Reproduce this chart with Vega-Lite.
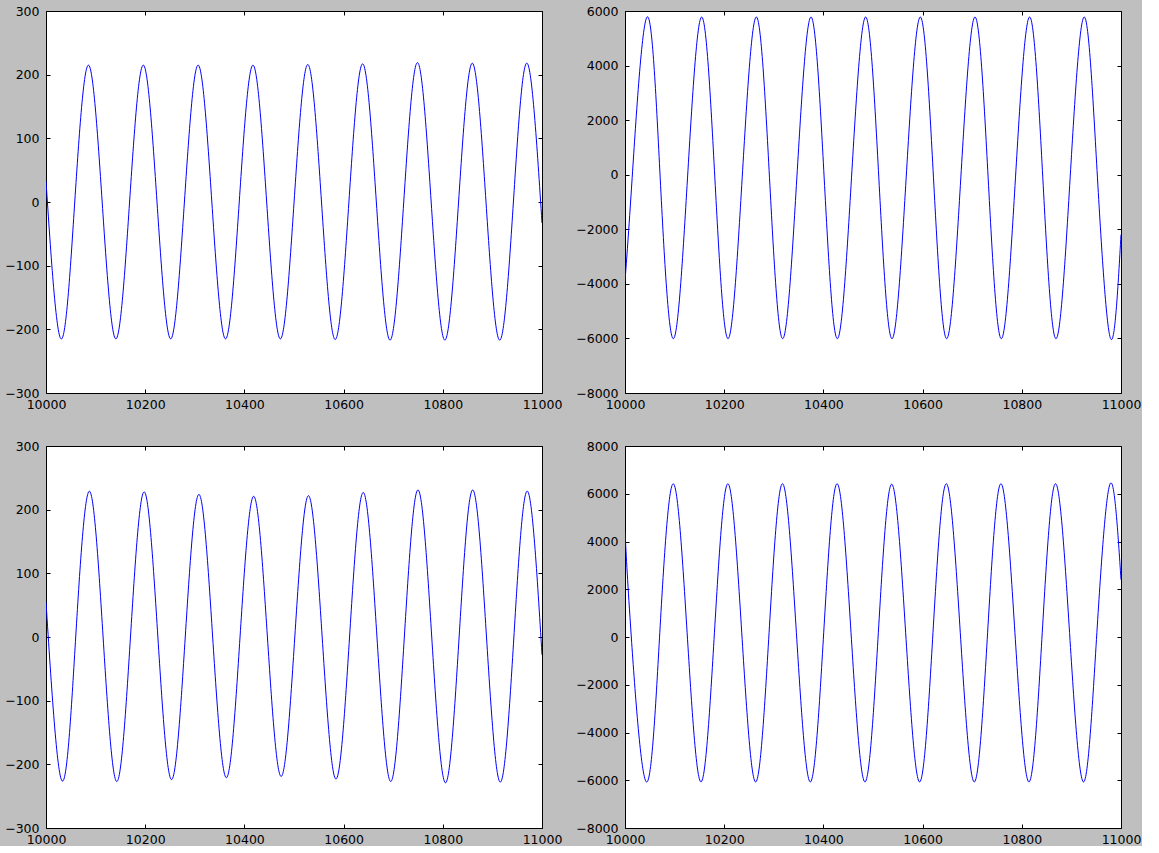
{
  "$schema": "https://vega.github.io/schema/vega-lite/v6.json",
  "background": "#bfbfbf",
  "autosize": {"type": "pad"},
  "padding": {"left": 4, "top": 4, "right": 0, "bottom": 0},
  "config": {
    "view": {"stroke": "#000000", "strokeWidth": 1, "fill": "#ffffff"},
    "axis": {
      "grid": false,
      "domain": false,
      "ticks": true,
      "tickColor": "#000000",
      "tickWidth": 1,
      "tickSize": -4,
      "labelFont": "DejaVu Sans",
      "labelFontSize": 12.5,
      "labelColor": "#000000",
      "labelFlush": false,
      "labelOverlap": false,
      "title": null
    },
    "axisX": {"labelPadding": 9},
    "axisY": {"labelPadding": 11}
  },
  "datasets": {
    "p1": [
      {"x": 10000, "y": 33},
      {"x": 10030.3, "y": -215},
      {"x": 10057.95, "y": 0},
      {"x": 10085.6, "y": 215},
      {"x": 10113.25, "y": 0},
      {"x": 10140.85, "y": -215},
      {"x": 10168.5, "y": 0},
      {"x": 10196.15, "y": 215},
      {"x": 10223.8, "y": 0},
      {"x": 10251.4, "y": -215},
      {"x": 10279.05, "y": 0},
      {"x": 10306.7, "y": 215},
      {"x": 10334.35, "y": 0},
      {"x": 10361.95, "y": -215},
      {"x": 10389.6, "y": 0},
      {"x": 10417.25, "y": 215},
      {"x": 10444.9, "y": 0},
      {"x": 10472.5, "y": -215},
      {"x": 10500.15, "y": 0},
      {"x": 10527.8, "y": 216},
      {"x": 10555.45, "y": 0},
      {"x": 10583.05, "y": -216},
      {"x": 10610.7, "y": 0},
      {"x": 10638.35, "y": 217},
      {"x": 10666.0, "y": 0},
      {"x": 10693.6, "y": -217},
      {"x": 10721.25, "y": 0},
      {"x": 10748.9, "y": 219},
      {"x": 10776.55, "y": 0},
      {"x": 10804.15, "y": -217},
      {"x": 10831.8, "y": 0},
      {"x": 10859.45, "y": 218},
      {"x": 10887.1, "y": 0},
      {"x": 10914.7, "y": -217},
      {"x": 10942.35, "y": 0},
      {"x": 10970.0, "y": 218},
      {"x": 11000, "y": -33}
    ],
    "p2": [
      {"x": 10000, "y": -3900},
      {"x": 10014.5, "y": -100},
      {"x": 10044.4, "y": 5780},
      {"x": 10070.95, "y": -115},
      {"x": 10097.5, "y": -6010},
      {"x": 10126.05, "y": -115},
      {"x": 10154.6, "y": 5780},
      {"x": 10181.15, "y": -115},
      {"x": 10207.7, "y": -6010},
      {"x": 10236.25, "y": -115},
      {"x": 10264.8, "y": 5780},
      {"x": 10291.35, "y": -115},
      {"x": 10317.9, "y": -6010},
      {"x": 10346.45, "y": -115},
      {"x": 10375.0, "y": 5780},
      {"x": 10401.55, "y": -115},
      {"x": 10428.1, "y": -6010},
      {"x": 10456.65, "y": -115},
      {"x": 10485.2, "y": 5780},
      {"x": 10511.75, "y": -115},
      {"x": 10538.3, "y": -6010},
      {"x": 10566.85, "y": -115},
      {"x": 10595.4, "y": 5780},
      {"x": 10621.95, "y": -115},
      {"x": 10648.5, "y": -6010},
      {"x": 10677.05, "y": -115},
      {"x": 10705.6, "y": 5780},
      {"x": 10732.15, "y": -115},
      {"x": 10758.7, "y": -6010},
      {"x": 10787.25, "y": -115},
      {"x": 10815.8, "y": 5780},
      {"x": 10842.35, "y": -115},
      {"x": 10868.9, "y": -6010},
      {"x": 10897.45, "y": -115},
      {"x": 10926.0, "y": 5780},
      {"x": 10952.55, "y": -115},
      {"x": 10979.1, "y": -6010},
      {"x": 11000, "y": -2200}
    ],
    "p3": [
      {"x": 10000, "y": 55},
      {"x": 10032.3, "y": -226},
      {"x": 10059.9, "y": 0},
      {"x": 10087.5, "y": 229},
      {"x": 10115.1, "y": 0},
      {"x": 10142.75, "y": -227},
      {"x": 10170.3, "y": 0},
      {"x": 10197.9, "y": 228},
      {"x": 10225.55, "y": 0},
      {"x": 10253.2, "y": -224},
      {"x": 10280.75, "y": 0},
      {"x": 10308.3, "y": 224},
      {"x": 10336.0, "y": 0},
      {"x": 10363.65, "y": -221},
      {"x": 10391.2, "y": 0},
      {"x": 10418.7, "y": 221},
      {"x": 10446.4, "y": 0},
      {"x": 10474.1, "y": -219},
      {"x": 10501.6, "y": 0},
      {"x": 10529.1, "y": 222},
      {"x": 10556.8, "y": 0},
      {"x": 10584.55, "y": -223},
      {"x": 10612.0, "y": 0},
      {"x": 10639.5, "y": 227},
      {"x": 10667.25, "y": 0},
      {"x": 10695.0, "y": -227},
      {"x": 10722.45, "y": 0},
      {"x": 10749.9, "y": 231},
      {"x": 10777.7, "y": 0},
      {"x": 10805.45, "y": -229},
      {"x": 10832.9, "y": 0},
      {"x": 10860.3, "y": 231},
      {"x": 10888.1, "y": 0},
      {"x": 10915.9, "y": -228},
      {"x": 10943.3, "y": 0},
      {"x": 10970.7, "y": 229},
      {"x": 11000, "y": -28}
    ],
    "p4": [
      {"x": 10000, "y": 4400},
      {"x": 10012.7, "y": 0},
      {"x": 10043.0, "y": -6070},
      {"x": 10070.15, "y": 175},
      {"x": 10097.3, "y": 6420},
      {"x": 10125.25, "y": 175},
      {"x": 10153.2, "y": -6070},
      {"x": 10180.3, "y": 175},
      {"x": 10207.4, "y": 6420},
      {"x": 10235.4, "y": 175},
      {"x": 10263.4, "y": -6070},
      {"x": 10290.45, "y": 175},
      {"x": 10317.5, "y": 6420},
      {"x": 10345.55, "y": 175},
      {"x": 10373.6, "y": -6070},
      {"x": 10400.6, "y": 175},
      {"x": 10427.6, "y": 6420},
      {"x": 10455.7, "y": 175},
      {"x": 10483.8, "y": -6070},
      {"x": 10510.75, "y": 175},
      {"x": 10537.7, "y": 6400},
      {"x": 10565.85, "y": 175},
      {"x": 10594.0, "y": -6070},
      {"x": 10620.9, "y": 175},
      {"x": 10647.8, "y": 6420},
      {"x": 10676.0, "y": 175},
      {"x": 10704.2, "y": -6070},
      {"x": 10731.05, "y": 175},
      {"x": 10757.9, "y": 6420},
      {"x": 10786.15, "y": 175},
      {"x": 10814.4, "y": -6070},
      {"x": 10841.2, "y": 175},
      {"x": 10868.0, "y": 6420},
      {"x": 10896.3, "y": 175},
      {"x": 10924.6, "y": -6070},
      {"x": 10951.35, "y": 175},
      {"x": 10978.1, "y": 6420},
      {"x": 11000, "y": 2400}
    ]
  },
  "columns": 2,
  "spacing": {"row": 53, "column": 83},
  "bounds": "flush",
  "concat": [
    {
      "width": 496,
      "height": 382,
      "data": {"name": "p1"},
      "layer": [
        {
          "mark": {"type": "line", "color": "#0000ff", "strokeWidth": 1, "interpolate": "natural", "clip": true},
          "encoding": {
            "x": {"field": "x", "type": "quantitative", "scale": {"domain": [10000, 11000], "nice": false, "zero": false}, "axis": {"values": [10000, 10200, 10400, 10600, 10800, 11000], "format": "d"}},
            "y": {"field": "y", "type": "quantitative", "scale": {"domain": [-300, 300], "nice": false, "zero": false}, "axis": {"values": [-300, -200, -100, 0, 100, 200, 300], "format": "d"}}
          }
        },
        {
          "mark": {"type": "line", "strokeOpacity": 0, "interpolate": "natural"},
          "encoding": {
            "x": {"field": "x", "type": "quantitative", "axis": {"orient": "top", "labels": false, "values": [10000, 10200, 10400, 10600, 10800, 11000]}},
            "y": {"field": "y", "type": "quantitative", "axis": {"orient": "right", "labels": false, "values": [-300, -200, -100, 0, 100, 200, 300]}}
          }
        }
      ],
      "resolve": {"axis": {"x": "independent", "y": "independent"}}
    },
    {
      "width": 496,
      "height": 382,
      "data": {"name": "p2"},
      "layer": [
        {
          "mark": {"type": "line", "color": "#0000ff", "strokeWidth": 1, "interpolate": "natural", "clip": true},
          "encoding": {
            "x": {"field": "x", "type": "quantitative", "scale": {"domain": [10000, 11000], "nice": false, "zero": false}, "axis": {"values": [10000, 10200, 10400, 10600, 10800, 11000], "format": "d"}},
            "y": {"field": "y", "type": "quantitative", "scale": {"domain": [-8000, 6000], "nice": false, "zero": false}, "axis": {"values": [-8000, -6000, -4000, -2000, 0, 2000, 4000, 6000], "format": "d"}}
          }
        },
        {
          "mark": {"type": "line", "strokeOpacity": 0, "interpolate": "natural"},
          "encoding": {
            "x": {"field": "x", "type": "quantitative", "axis": {"orient": "top", "labels": false, "values": [10000, 10200, 10400, 10600, 10800, 11000]}},
            "y": {"field": "y", "type": "quantitative", "axis": {"orient": "right", "labels": false, "values": [-8000, -6000, -4000, -2000, 0, 2000, 4000, 6000]}}
          }
        }
      ],
      "resolve": {"axis": {"x": "independent", "y": "independent"}}
    },
    {
      "width": 496,
      "height": 382,
      "data": {"name": "p3"},
      "layer": [
        {
          "mark": {"type": "line", "color": "#0000ff", "strokeWidth": 1, "interpolate": "natural", "clip": true},
          "encoding": {
            "x": {"field": "x", "type": "quantitative", "scale": {"domain": [10000, 11000], "nice": false, "zero": false}, "axis": {"values": [10000, 10200, 10400, 10600, 10800, 11000], "format": "d"}},
            "y": {"field": "y", "type": "quantitative", "scale": {"domain": [-300, 300], "nice": false, "zero": false}, "axis": {"values": [-300, -200, -100, 0, 100, 200, 300], "format": "d"}}
          }
        },
        {
          "mark": {"type": "line", "strokeOpacity": 0, "interpolate": "natural"},
          "encoding": {
            "x": {"field": "x", "type": "quantitative", "axis": {"orient": "top", "labels": false, "values": [10000, 10200, 10400, 10600, 10800, 11000]}},
            "y": {"field": "y", "type": "quantitative", "axis": {"orient": "right", "labels": false, "values": [-300, -200, -100, 0, 100, 200, 300]}}
          }
        }
      ],
      "resolve": {"axis": {"x": "independent", "y": "independent"}}
    },
    {
      "width": 496,
      "height": 382,
      "data": {"name": "p4"},
      "layer": [
        {
          "mark": {"type": "line", "color": "#0000ff", "strokeWidth": 1, "interpolate": "natural", "clip": true},
          "encoding": {
            "x": {"field": "x", "type": "quantitative", "scale": {"domain": [10000, 11000], "nice": false, "zero": false}, "axis": {"values": [10000, 10200, 10400, 10600, 10800, 11000], "format": "d"}},
            "y": {"field": "y", "type": "quantitative", "scale": {"domain": [-8000, 8000], "nice": false, "zero": false}, "axis": {"values": [-8000, -6000, -4000, -2000, 0, 2000, 4000, 6000, 8000], "format": "d"}}
          }
        },
        {
          "mark": {"type": "line", "strokeOpacity": 0, "interpolate": "natural"},
          "encoding": {
            "x": {"field": "x", "type": "quantitative", "axis": {"orient": "top", "labels": false, "values": [10000, 10200, 10400, 10600, 10800, 11000]}},
            "y": {"field": "y", "type": "quantitative", "axis": {"orient": "right", "labels": false, "values": [-8000, -6000, -4000, -2000, 0, 2000, 4000, 6000, 8000]}}
          }
        }
      ],
      "resolve": {"axis": {"x": "independent", "y": "independent"}}
    }
  ]
}
